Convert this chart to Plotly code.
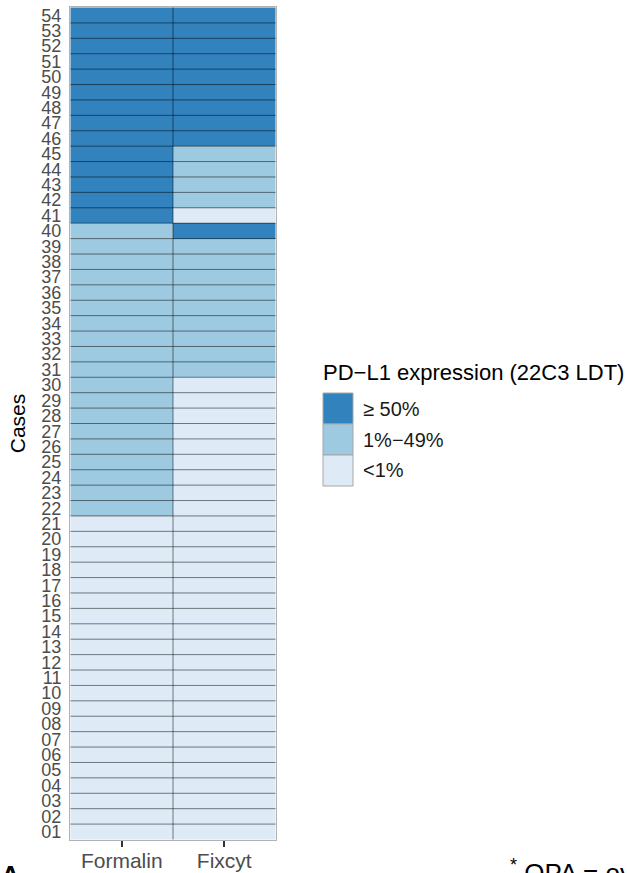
import plotly.graph_objects as go

cases = [f"{i:02d}" for i in range(1, 55)]
methods = ["Formalin", "Fixcyt"]
levels = ["<1%", "1%\u221249%", "\u2265 50%"]
level_colors = ["#deebf7", "#9ecae1", "#3182bd"]

# category per case (index into levels), case 01..54
formalin = [0]*21 + [1]*19 + [2]*14
fixcyt = [0]*30 + [1]*9 + [2] + [0] + [1]*4 + [2]*9

W, H = 627, 873
L, R, T, B = 70, 351, 7, 33
pw, ph = W - L - R, H - T - B

def px(x):
    return (x - L) / pw

def py(y):
    return (H - B - y) / ph

z = [[formalin[i], fixcyt[i]] for i in range(len(cases))]
n = len(levels)
cs = []
for k, c in enumerate(level_colors):
    cs.append([k / n, c])
    cs.append([(k + 1) / n, c])

fig = go.Figure(go.Heatmap(
    z=z, x=methods, y=cases, zmin=-0.5, zmax=n - 0.5,
    colorscale=cs, showscale=False, hoverinfo="skip"))

shapes = []
line_col = "rgba(0,0,0,0.5)"
for i in range(1, len(cases)):
    shapes.append(dict(type="line", xref="x", yref="y", x0=-0.5, x1=1.5,
                       y0=i - 0.5, y1=i - 0.5, line=dict(color=line_col, width=1)))
shapes.append(dict(type="line", xref="x", yref="y", x0=0.5, x1=0.5,
                   y0=-0.5, y1=len(cases) - 0.5, line=dict(color=line_col, width=1)))

# legend
annotations = []
key_x0, key_x1 = 323, 353
key_top, key_h = 393, 31
annotations.append(dict(text="PD\u2212L1 expression (22C3 LDT)", x=px(321), y=py(373),
                        xref="paper", yref="paper", xanchor="left", yanchor="middle",
                        showarrow=False, font=dict(size=22, color="#000000")))
for j, k in enumerate(reversed(range(n))):
    y0 = key_top + j * key_h
    shapes.append(dict(type="rect", xref="paper", yref="paper",
                       x0=px(key_x0), x1=px(key_x1), y0=py(y0), y1=py(y0 + key_h),
                       fillcolor=level_colors[k], line=dict(color="#a6a6a6", width=1)))
    annotations.append(dict(text=levels[k], x=px(361), y=py(y0 + key_h / 2),
                            xref="paper", yref="paper", xanchor="left", yanchor="middle",
                            showarrow=False, font=dict(size=20, color="#1a1a1a")))

annotations.append(dict(text="<b>A</b>", x=px(-1), y=py(858), xref="paper", yref="paper",
                        xanchor="left", yanchor="top", showarrow=False,
                        font=dict(size=26, color="#000000")))
annotations.append(dict(text="<sup>*</sup> OPA = overall percent agreement", x=px(508), y=py(853),
                        xref="paper", yref="paper", xanchor="left", yanchor="top",
                        showarrow=False, font=dict(size=26, color="#000000")))

fig.update_layout(
    width=W, height=H, margin=dict(l=L, r=R, t=T, b=B, autoexpand=False),
    paper_bgcolor="white", plot_bgcolor="white",
    font=dict(family="Liberation Sans, Arial, sans-serif"),
    shapes=shapes, annotations=annotations,
    xaxis=dict(categoryorder="array", categoryarray=methods, showgrid=False, zeroline=False,
               ticks="outside", ticklen=6, tickcolor="#333333", tickwidth=1.5,
               ticklabelstandoff=-4,
               tickfont=dict(size=21, color="#4d4d4d"), showline=True, mirror=True,
               linecolor="rgba(0,0,0,0.3)", linewidth=1),
    yaxis=dict(categoryorder="array", categoryarray=cases, showgrid=False, zeroline=False,
               tickmode="array", tickvals=cases, ticktext=cases,
               ticks="", ticklabelstandoff=4, tickfont=dict(size=18, color="#4d4d4d"),
               showline=True, mirror=True, linecolor="rgba(0,0,0,0.3)", linewidth=1,
               title=dict(text="Cases", font=dict(size=21, color="#000000"), standoff=10)),
)

fig.write_html("out.html", config={"displayModeBar": False},
               post_script="document.body.style.margin='0';document.body.style.overflow='hidden';")
